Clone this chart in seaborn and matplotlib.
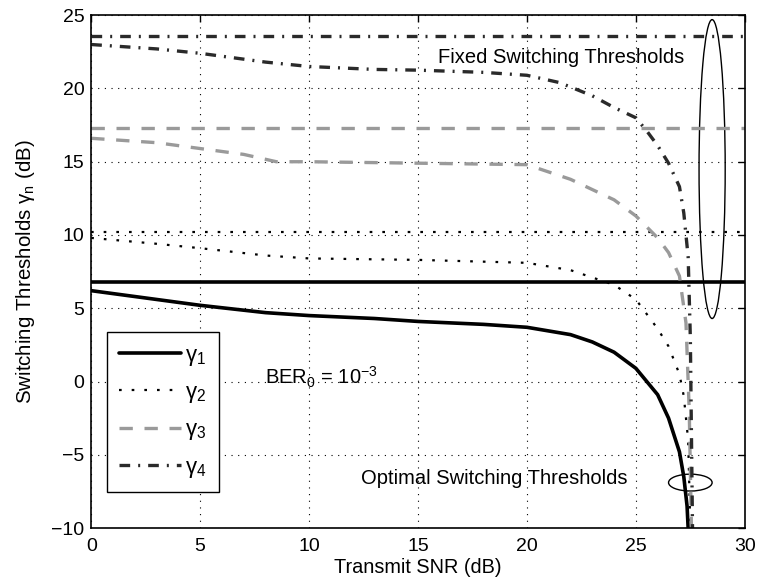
import matplotlib
matplotlib.use("Agg")
import matplotlib.pyplot as plt
from matplotlib.patches import Ellipse
import seaborn as sns
import pandas as pd

# ---- data ----
snr1 = [0, 2, 5, 8, 10, 13, 15, 18, 20, 22, 23, 24, 25, 26, 26.5, 27, 27.2, 27.35, 27.4]
opt1 = [6.2, 5.8, 5.2, 4.7, 4.5, 4.3, 4.1, 3.9, 3.7, 3.2, 2.7, 2.0, 0.9, -0.9, -2.5, -4.8, -6.5, -8.5, -10]

snr2 = [0, 3, 5, 8, 10, 15, 20, 22, 23, 24, 25, 25.5, 26, 26.5, 27, 27.2, 27.4, 27.5]
opt2 = [9.8, 9.4, 9.1, 8.6, 8.4, 8.3, 8.1, 7.6, 7.1, 6.6, 5.6, 4.6, 3.6, 2.4, 0.5, -1.0, -4.0, -10]

snr3 = [0, 3, 5, 7, 8.5, 10, 15, 20, 21, 22, 23, 24, 25, 26, 26.5, 27, 27.3, 27.45, 27.55]
opt3 = [16.6, 16.3, 15.9, 15.5, 15.0, 15.0, 14.9, 14.8, 14.3, 13.8, 13.1, 12.4, 11.3, 9.8, 8.8, 7.2, 4.0, -2.0, -10]

snr4 = [0, 3, 5, 8, 10, 13, 15, 18, 20, 21.5, 23, 24, 25, 25.5, 26, 26.5, 27, 27.2, 27.4, 27.5, 27.6]
opt4 = [23.0, 22.7, 22.4, 21.8, 21.5, 21.3, 21.25, 21.1, 20.9, 20.4, 19.5, 18.7, 18.0, 17.1, 16.1, 14.9, 13.3, 11.5, 8.5, 3.0, -10]

fixed_snr = [0, 30]
fixed_vals = [6.8, 10.2, 17.3, 23.6]

labels = [r"γ$_1$", r"γ$_2$", r"γ$_3$", r"γ$_4$"]
xticks = [0, 5, 10, 15, 20, 25, 30]
yticks = [-10, -5, 0, 5, 10, 15, 20, 25]

# ---- style ----
sns.set_theme(style="white")
plt.rcParams["font.family"] = ["Liberation Sans", "DejaVu Sans"]
plt.rcParams["mathtext.fontset"] = "custom"
plt.rcParams["mathtext.rm"] = "Liberation Sans"
plt.rcParams["mathtext.it"] = "Liberation Sans:italic"
plt.rcParams["mathtext.bf"] = "Liberation Sans:bold"
plt.rcParams["text.color"] = "black"
plt.rcParams["axes.labelcolor"] = "black"
plt.rcParams["xtick.color"] = "black"
plt.rcParams["ytick.color"] = "black"

fig = plt.figure(figsize=(7.6, 5.85), dpi=100)
ax = fig.add_axes([0.12, 0.0974, 0.86, 0.8766])

styles = [
    dict(color="black", lw=2.6, dashes=None),
    dict(color="black", lw=1.6, dashes=(1.2, 4.5)),
    dict(color="#9a9a9a", lw=2.4, dashes=(4, 3.5)),
    dict(color="#2a2a2a", lw=2.4, dashes=(3.2, 2.4, 0.6, 2.4)),
]

opt_x = [snr1, snr2, snr3, snr4]
opt_y = [opt1, opt2, opt3, opt4]

handles = []
for i in range(4):
    st = styles[i]
    df = pd.DataFrame({"snr": opt_x[i], "thr": opt_y[i]})
    sns.lineplot(data=df, x="snr", y="thr", ax=ax, color=st["color"], lw=st["lw"],
                 sort=False, estimator=None)
    line = ax.lines[-1]
    if st["dashes"]:
        line.set_dashes(st["dashes"])
    line.set_label(labels[i])
    handles.append(line)
    dff = pd.DataFrame({"snr": fixed_snr, "thr": [fixed_vals[i]] * 2})
    sns.lineplot(data=dff, x="snr", y="thr", ax=ax, color=st["color"], lw=st["lw"],
                 sort=False, estimator=None)
    if st["dashes"]:
        ax.lines[-1].set_dashes(st["dashes"])

ax.set_xlim(0, 30)
ax.set_ylim(-10, 25)
ax.set_xticks(xticks)
ax.set_yticks(yticks)
ax.set_yticklabels([str(v).replace("-", "\u2212") for v in yticks])
ax.tick_params(direction="in", top=True, right=True, length=5, width=1,
               labelsize=14, colors="black")
ax.tick_params(axis="x", pad=7)
ax.tick_params(axis="y", pad=5)
for s in ax.spines.values():
    s.set_color("black")
    s.set_linewidth(1.2)
ax.grid(True, color="black", linestyle=(0, (1, 5)), linewidth=0.8)

ax.set_xlabel("Transmit SNR (dB)", fontsize=14.3, labelpad=2)
ax.set_ylabel(r"Switching Thresholds γ$_{\mathrm{n}}$ (dB)", fontsize=14.8, labelpad=10)

ax.text(15.9, 22.1, "Fixed Switching Thresholds", fontsize=14.5, va="center", ha="left")
ax.text(8.0, 0.25, r"BER$_0$ = 10$^{-3}$", fontsize=14.5, va="center", ha="left")
ax.text(12.4, -6.6, "Optimal Switching Thresholds", fontsize=14.5, va="center", ha="left")

ax.add_patch(Ellipse((28.5, 14.5), 1.2, 20.4, fill=False, ec="black", lw=1))
ax.add_patch(Ellipse((27.5, -6.9), 2.0, 1.15, fill=False, ec="black", lw=1))

leg = ax.legend(handles=handles, labels=labels, loc="lower left",
                bbox_to_anchor=(0.0245, 0.07), borderaxespad=0, fancybox=False,
                frameon=True, edgecolor="black", fontsize=16, handlelength=2.75,
                labelspacing=0.65, borderpad=0.55, handletextpad=0.2)
leg.get_frame().set_linewidth(1.0)
leg.get_frame().set_facecolor("white")
leg.get_frame().set_alpha(1)

fig.savefig("out.png", dpi=100)
